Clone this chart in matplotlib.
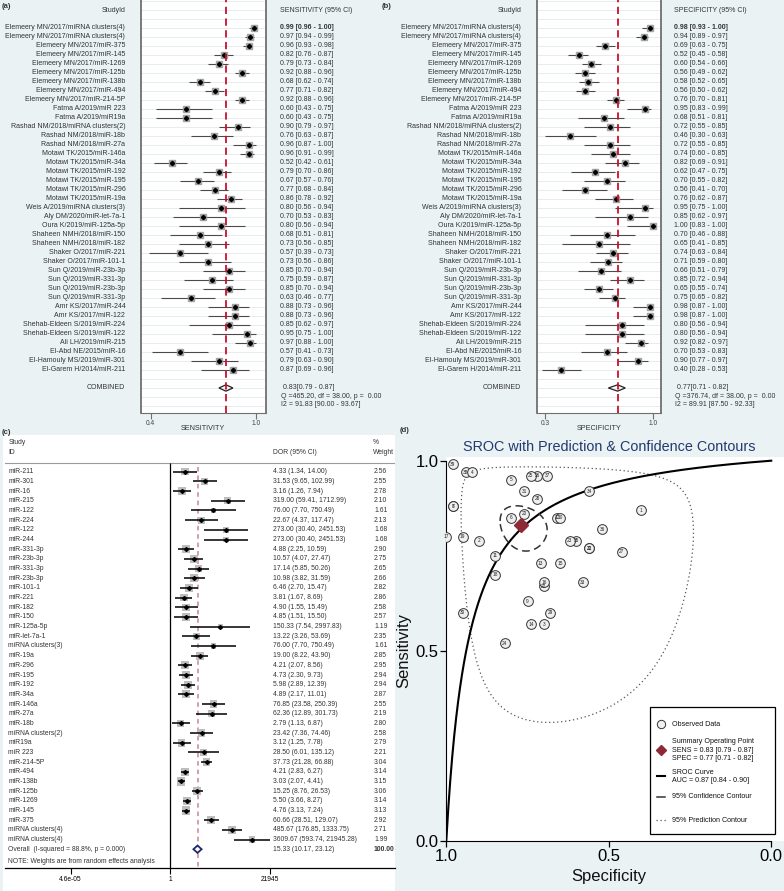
import numpy as np
import matplotlib
matplotlib.use('Agg')
import matplotlib.pyplot as plt
from matplotlib import font_manager
from matplotlib.transforms import blended_transform_factory
from matplotlib.patches import Polygon, Rectangle
from matplotlib.lines import Line2D

plt.rcParams['font.family'] = ['Liberation Sans', 'DejaVu Sans']
_names = {f.name for f in font_manager.fontManager.ttflist}
NARROW = 'Liberation Sans Narrow' if 'Liberation Sans Narrow' in _names else 'Liberation Sans'

# ---- data: study order as in panels (a) and (b) ----
studies = [
    'Elemeery MN/2017/miRNA clusters(4)', 'Elemeery MN/2017/miRNA clusters(4)',
    'Elemeery MN/2017/miR-375', 'Elemeery MN/2017/miR-145', 'Elemeery MN/2017/miR-1269',
    'Elemeery MN/2017/miR-125b', 'Elemeery MN/2017/miR-138b', 'Elemeery MN/2017/miR-494',
    'Elemeery MN/2017/miR-214-5P', 'Fatma A/2019/miR 223', 'Fatma A/2019/miR19a',
    'Rashad NM/2018/miRNA clusters(2)', 'Rashad NM/2018/miR-18b', 'Rashad NM/2018/miR-27a',
    'Motawi TK/2015/miR-146a', 'Motawi TK/2015/miR-34a', 'Motawi TK/2015/miR-192',
    'Motawi TK/2015/miR-195', 'Motawi TK/2015/miR-296', 'Motawi TK/2015/miR-19a',
    'Weis A/2019/miRNA clusters(3)', 'Aly DM/2020/miR-let-7a-1', 'Oura K/2019/miR-125a-5p',
    'Shaheen NMH/2018/miR-150', 'Shaheen NMH/2018/miR-182', 'Shaker O/2017/miR-221',
    'Shaker O/2017/miR-101-1', 'Sun Q/2019/miR-23b-3p', 'Sun Q/2019/miR-331-3p',
    'Sun Q/2019/miR-23b-3p', 'Sun Q/2019/miR-331-3p', 'Amr KS/2017/miR-244',
    'Amr KS/2017/miR-122', 'Shehab-Eldeen S/2019/miR-224', 'Shehab-Eldeen S/2019/miR-122',
    'Ali LH/2019/miR-215', 'El-Abd NE/2015/miR-16', 'El-Hamouly MS/2019/miR-301',
    'El-Garem H/2014/miR-211',
]
sens = [0.99, 0.97, 0.96, 0.82, 0.79, 0.92, 0.68, 0.77, 0.92, 0.60, 0.60, 0.90, 0.76, 0.96,
        0.96, 0.52, 0.79, 0.67, 0.77, 0.86, 0.80, 0.70, 0.80, 0.68, 0.73, 0.57, 0.73, 0.85,
        0.75, 0.85, 0.63, 0.88, 0.88, 0.85, 0.95, 0.97, 0.57, 0.79, 0.87]
sens_lo = [0.96, 0.94, 0.93, 0.76, 0.73, 0.88, 0.62, 0.71, 0.88, 0.43, 0.43, 0.79, 0.63, 0.87,
           0.91, 0.42, 0.70, 0.57, 0.68, 0.78, 0.56, 0.53, 0.56, 0.51, 0.56, 0.39, 0.56, 0.70,
           0.59, 0.70, 0.46, 0.73, 0.73, 0.62, 0.75, 0.88, 0.41, 0.63, 0.69]
sens_hi = [1.00, 0.99, 0.98, 0.87, 0.84, 0.96, 0.74, 0.82, 0.96, 0.75, 0.75, 0.97, 0.87, 1.00,
           0.99, 0.61, 0.86, 0.76, 0.84, 0.92, 0.94, 0.83, 0.94, 0.81, 0.85, 0.73, 0.86, 0.94,
           0.87, 0.94, 0.77, 0.96, 0.96, 0.97, 1.00, 1.00, 0.73, 0.90, 0.96]
spec = [0.98, 0.94, 0.69, 0.52, 0.60, 0.56, 0.58, 0.56, 0.76, 0.95, 0.68, 0.72, 0.46, 0.72,
        0.74, 0.82, 0.62, 0.70, 0.56, 0.76, 0.95, 0.85, 1.00, 0.70, 0.65, 0.74, 0.71, 0.66,
        0.85, 0.65, 0.75, 0.98, 0.98, 0.80, 0.80, 0.92, 0.70, 0.90, 0.40]
spec_lo = [0.93, 0.89, 0.63, 0.45, 0.54, 0.49, 0.52, 0.50, 0.70, 0.83, 0.51, 0.55, 0.30, 0.55,
           0.60, 0.69, 0.47, 0.55, 0.41, 0.62, 0.75, 0.62, 0.83, 0.46, 0.41, 0.63, 0.59, 0.51,
           0.72, 0.55, 0.65, 0.87, 0.87, 0.56, 0.56, 0.82, 0.53, 0.77, 0.28]
spec_hi = [1.00, 0.97, 0.75, 0.58, 0.66, 0.62, 0.65, 0.62, 0.81, 0.99, 0.81, 0.85, 0.63, 0.85,
           0.85, 0.91, 0.75, 0.82, 0.70, 0.87, 1.00, 0.97, 1.00, 0.88, 0.85, 0.84, 0.80, 0.79,
           0.94, 0.74, 0.82, 1.00, 1.00, 0.94, 0.94, 0.97, 0.83, 0.97, 0.53]

pooled_sens = (0.83, 0.79, 0.87)
pooled_spec = (0.77, 0.71, 0.82)
sens_het = 'Q =465.20, df = 38.00, p =  0.00'
sens_i2 = 'I2 = 91.83 [90.00 - 93.67]'
spec_het = 'Q =376.74, df = 38.00, p =  0.00'
spec_i2 = 'I2 = 89.91 [87.50 - 92.33]'

# ---- data: panel (c), reversed study order ----
dor_labels = [s.split('/')[-1] for s in studies[::-1]]
dor = [4.33, 31.53, 3.16, 319.00, 76.00, 22.67, 273.00, 273.00, 4.88, 10.57, 17.14, 10.98,
       6.46, 3.81, 4.90, 4.85, 150.33, 13.22, 76.00, 19.00, 4.21, 4.73, 5.98, 4.89, 76.85,
       62.36, 2.79, 23.42, 3.12, 28.50, 37.73, 4.21, 3.03, 15.25, 5.50, 4.76, 60.66, 485.67,
       3609.67]
dor_lo = [1.34, 9.65, 1.26, 59.41, 7.70, 4.37, 30.40, 30.40, 2.25, 4.07, 5.85, 3.82, 2.70,
          1.67, 1.55, 1.51, 7.54, 3.26, 7.70, 8.22, 2.07, 2.30, 2.89, 2.17, 23.58, 12.89,
          1.13, 7.36, 1.25, 6.01, 21.28, 2.83, 2.07, 8.76, 3.66, 3.13, 28.51, 176.85, 593.74]
dor_hi = [14.00, 102.99, 7.94, 1712.99, 750.49, 117.47, 2451.53, 2451.53, 10.59, 27.47,
          50.26, 31.59, 15.47, 8.69, 15.49, 15.50, 2997.83, 53.69, 750.49, 43.90, 8.56, 9.73,
          12.39, 11.01, 250.39, 301.73, 6.87, 74.46, 7.78, 135.12, 66.88, 6.27, 4.41, 26.53,
          8.27, 7.24, 129.07, 1333.75, 21945.28]
dor_w = [2.56, 2.55, 2.78, 2.10, 1.61, 2.13, 1.68, 1.68, 2.90, 2.75, 2.65, 2.66, 2.82, 2.86,
         2.58, 2.57, 1.19, 2.35, 1.61, 2.85, 2.95, 2.94, 2.94, 2.87, 2.55, 2.19, 2.80, 2.58,
         2.79, 2.21, 3.04, 3.14, 3.15, 3.06, 3.14, 3.13, 2.92, 2.71, 1.99]
dor_overall = (15.33, 10.17, 23.12)
dor_i2 = 'Overall  (I-squared = 88.8%, p = 0.000)'

auc = (0.87, 0.84, 0.90)

W, H = 784, 891
BG = '#eaf2f3'
TXT = '#333333'
fig = plt.figure(figsize=(W / 100, H / 100), dpi=100, facecolor=BG)


def axes_px(x0, y0, x1, y1, **kw):
    return fig.add_axes([x0 / W, 1 - y1 / H, (x1 - x0) / W, (y1 - y0) / H], **kw)


def ftext(x, y, s, **kw):
    kw.setdefault('color', TXT)
    return fig.text(x / W, 1 - y / H, s, **kw)


def prop_forest(x0, x1, label_x, value_x, est, lo, hi, pooled, het, i2, xlim, xticks, xname, name_x):
    ax = axes_px(x0, 0, x1, 413, facecolor='white')
    rows = np.arange(len(est))
    ax.set_xlim(*xlim)
    ax.set_ylim(42.78, -3.11)
    for r in range(-3, 43):
        ax.axhline(r, color='#e2eaed', lw=0.6, zorder=0)
    ax.hlines(rows, lo, hi, color='#4a4a4a', lw=0.8, zorder=2)
    ax.plot(est, rows, 's', ms=5, mfc='#a3a3a3', mec='#a3a3a3', ls='none', zorder=3)
    ax.plot(est, rows, 'D', ms=2.2, color='black', ls='none', zorder=4)
    p, plo, phi = pooled
    ax.add_patch(Polygon([(plo, 40), (p, 39.65), (phi, 40), (p, 40.35)], closed=True,
                         fill=False, ec='#222222', lw=0.9, zorder=5))
    ax.axvline(p, color='#c8102e', ls=(0, (4, 2.5)), lw=1.3, zorder=6)

    for side in ['left', 'right']:
        ax.spines[side].set_color('#707070')
        ax.spines[side].set_linewidth(1.3)
    ax.spines['top'].set_visible(False)
    ax.spines['bottom'].set_color('#707070')
    ax.set_yticks([])
    ax.set_xticks(xticks)
    ax.set_xticklabels([f'{v:.1f}' for v in xticks])
    ax.tick_params(axis='x', length=4, width=0.8, color='#707070', labelsize=4.8,
                   labelcolor='#444444', pad=1)

    t = blended_transform_factory(fig.transFigure, ax.transData)
    fs = 5.0
    ax.text(label_x / W, -1.92, 'StudyId', transform=t, ha='right', va='center', fontsize=fs, color=TXT)
    ax.text(value_x / W, -1.92, f'{xname} (95% CI)', transform=t, ha='left', va='center', fontsize=fs, color=TXT)
    for i, s in enumerate(studies):
        ax.text(label_x / W, i, s, transform=t, ha='right', va='center', fontsize=fs, color=TXT)
        ax.text(value_x / W, i, f'{est[i]:.2f} [{lo[i]:.2f} - {hi[i]:.2f}]', transform=t,
                ha='left', va='center', fontsize=fs, color=TXT,
                fontweight='bold' if i == 0 else 'normal')
    ax.text(label_x / W, 40, 'COMBINED', transform=t, ha='right', va='center', fontsize=fs, color=TXT)
    ax.text((value_x + 3) / W, 40, f'{p:.2f}[{plo:.2f} - {phi:.2f}]', transform=t,
            ha='left', va='center', fontsize=fs, color=TXT)
    ax.text((value_x + 1) / W, 40.95, het, transform=t, ha='left', va='center', fontsize=fs, color=TXT)
    ax.text((value_x + 1) / W, 41.85, i2, transform=t, ha='left', va='center', fontsize=fs, color=TXT)
    ftext(name_x, 429, xname, ha='center', va='center', fontsize=5.2)
    return ax


# ---- (a) sensitivity ----
ftext(2, 6, '(a)', ha='left', va='center', fontsize=5.5, fontweight='bold')
prop_forest(141, 266, 125.3, 280, sens, sens_lo, sens_hi, pooled_sens, sens_het, sens_i2,
            (0.3446, 1.059), [0.4, 1.0], 'SENSITIVITY', 203)

# ---- (b) specificity ----
ftext(382, 6, '(b)', ha='left', va='center', fontsize=5.5, fontweight='bold')
prop_forest(537.3, 661.3, 521.3, 674, spec, spec_lo, spec_hi, pooled_spec, spec_het, spec_i2,
            (0.248, 1.054), [0.3, 1.0], 'SPECIFICITY', 599)

# ---- (c) diagnostic odds ratio ----
ftext(2, 432, '(c)', ha='left', va='center', fontsize=5.5, fontweight='bold')
fig.add_artist(Rectangle((3 / W, 0), 392 / W, (H - 435) / H, transform=fig.transFigure,
                         facecolor='white', edgecolor='none', zorder=-1))
axc = axes_px(5, 435, 395, 868)
axc.patch.set_alpha(0)
axc.set_xscale('log')
axc.set_xlim(10 ** -7.2, 10 ** 9.787)
axc.set_ylim(40.94, -3.80)
crow = np.arange(len(dor))
axc.scatter(dor, crow, marker='s', s=(np.sqrt(dor_w) * 3.3) ** 2, color='#bdbdbd', lw=0, zorder=2)
axc.hlines(crow, dor_lo, dor_hi, color='black', lw=1.1, zorder=3)
axc.plot(dor, crow, 'D', ms=2.0, color='black', ls='none', zorder=4)
axc.axhline(-0.87, color='#9a9a9a', lw=0.8)
axc.vlines(1, -0.87, 40.94, color='black', lw=0.9)
o, olo, ohi = dor_overall
axc.vlines(o, -0.5, 40.94, color='#c98896', ls=(0, (3, 2.5)), lw=1.1, zorder=1)
axc.add_patch(Polygon([(olo, 39), (o, 38.62), (ohi, 39), (o, 39.38)], closed=True,
                      fc='white', ec='#1f2a6b', lw=1.3, zorder=5))
for side in ['left', 'right', 'top']:
    axc.spines[side].set_visible(False)
axc.spines['bottom'].set_linewidth(0.9)
axc.set_yticks([])
xmax = round(max(dor_hi))
axc.set_xticks([1 / xmax, 1, xmax])
axc.set_xticklabels([f'{1 / xmax:.1e}', '1', f'{xmax}'])
axc.xaxis.set_minor_locator(matplotlib.ticker.NullLocator())
axc.tick_params(axis='x', length=4, width=0.8, labelsize=4.8, pad=2)

tc = blended_transform_factory(fig.transFigure, axc.transData)
cfs = 4.9


def ctext(x, row, s, **kw):
    axc.text(x / W, row, s, transform=tc, ha='left', va='center', fontsize=cfs, color=TXT, **kw)


ctext(8.3, -3.0, 'Study')
ctext(8.3, -1.96, 'ID')
ctext(272.7, -1.96, 'DOR (95% CI)')
ctext(372.7, -3.0, '%')
ctext(372.7, -1.96, 'Weight')
for i in range(len(dor)):
    ctext(8.3, i, dor_labels[i])
    ctext(272.7, i, f'{dor[i]:.2f} ({dor_lo[i]:.2f}, {dor_hi[i]:.2f})')
    ctext(374, i, f'{dor_w[i]:.2f}')
ctext(8.3, 39, dor_i2)
ctext(272.7, 39, f'{o:.2f} ({olo:.2f}, {ohi:.2f})')
ctext(374, 39, '100.00', fontweight='bold')
ctext(8.3, 40.25, 'NOTE: Weights are from random effects analysis')

# ---- (d) SROC ----
ftext(400, 431, '(d)', ha='left', va='center', fontsize=5.5, fontweight='bold')
axd = axes_px(446.3, 457, 784, 841, facecolor='white')
axd.set_xlim(1.0, -0.039)
axd.set_ylim(0, 1.0097)


def logit(p):
    return np.log(p / (1 - p))


def expit(v):
    return 1 / (1 + np.exp(-v))


def contour(c_spec, c_sens, a, b, rho):
    t = np.linspace(0, 2 * np.pi, 240)
    ls = logit(c_spec) + a * np.cos(t)
    lse = logit(c_sens) + b * (rho * np.cos(t) + np.sqrt(1 - rho ** 2) * np.sin(t))
    return expit(ls), expit(lse)


# SROC curve from the pooled DOR (symmetric curve)
fpr = np.linspace(0.0002, 0.9998, 500)
curve_sens = expit(np.log(dor_overall[0]) + logit(fpr))
axd.plot(1 - fpr, curve_sens, color='black', lw=1.5, zorder=3)

cx, cy = contour(pooled_spec[0], pooled_sens[0], 0.41, 0.42, 0.2)
axd.plot(cx, cy, color='#333333', lw=1.1, ls=(0, (5, 3)), zorder=3)
px_, py_ = contour(0.72, 0.84, 2.1, 2.45, 0.08)
axd.plot(px_, py_, color='#555555', lw=0.9, ls=(0, (1, 2.2)), zorder=2)

axd.plot(spec, sens, 'o', ms=7, mfc='#efefef', mec='#333333', mew=0.7, ls='none', zorder=4)
n = len(studies)
for i in range(n):
    axd.text(spec[i], sens[i], str(n - i), ha='center', va='center', fontsize=3.4,
             color='#222222', zorder=5)
axd.plot(pooled_spec[0], pooled_sens[0], 'D', ms=7, color='#8e2a35', ls='none', zorder=6)

for side in ['top', 'right']:
    axd.spines[side].set_visible(False)
axd.spines['left'].set_bounds(0, 1)
axd.spines['bottom'].set_bounds(0, 1)
axd.set_xticks([1.0, 0.5, 0.0])
axd.set_yticks([0.0, 0.5, 1.0])
axd.tick_params(length=4, width=0.9, labelsize=12, pad=1.5)
ftext(404, 650, 'Sensitivity', rotation=90, ha='center', va='center', fontsize=12, color='#111111')
ftext(609, 877, 'Specificity', ha='center', va='center', fontsize=12, color='#111111')
ftext(609, 446.7, 'SROC with Prediction & Confidence Contours', ha='center', va='center',
      fontsize=10.4, color='#223a70')

# legend box
fig.add_artist(Rectangle((650.3 / W, 1 - 834.3 / H), 125 / W, 127.6 / H, transform=fig.transFigure,
                         fc='white', ec='black', lw=0.9, zorder=10))
fig.add_artist(Line2D([660.7 / W], [1 - 724 / H], marker='o', ms=6, mfc='#efefef', mec='#333333',
                      mew=0.7, transform=fig.transFigure, zorder=11))
fig.add_artist(Line2D([660.7 / W], [1 - 750 / H], marker='D', ms=5.5, color='#8e2a35',
                      transform=fig.transFigure, zorder=11))
fig.add_artist(Line2D([657 / W, 665 / W], [1 - 776 / H] * 2, color='black', lw=1.5,
                      transform=fig.transFigure, zorder=11))
fig.add_artist(Line2D([657 / W, 665 / W], [1 - 797 / H] * 2, color='#333333', lw=1.1,
                      transform=fig.transFigure, zorder=11))
fig.add_artist(Line2D([656 / W, 666 / W], [1 - 820 / H] * 2, color='#555555', lw=0.9, ls=(0, (1, 2.2)),
                      transform=fig.transFigure, zorder=11))
lfs = 5.1
legend_lines = [
    (724, 'Observed Data'),
    (741.7, 'Summary Operating Point'),
    (750.3, f'SENS = {pooled_sens[0]:.2f} [{pooled_sens[1]:.2f} - {pooled_sens[2]:.2f}]'),
    (759, f'SPEC = {pooled_spec[0]:.2f} [{pooled_spec[1]:.2f} - {pooled_spec[2]:.2f}]'),
    (772, 'SROC Curve'),
    (780.7, f'AUC = {auc[0]:.2f} [{auc[1]:.2f} - {auc[2]:.2f}]'),
    (797, '95% Confidence Contour'),
    (820, '95% Prediction Contour'),
]
for y, s in legend_lines:
    ftext(672.5, y, s, ha='left', va='center', fontsize=lfs, color='#111111', zorder=12)

fig.savefig('out.png', dpi=100, facecolor=BG)
